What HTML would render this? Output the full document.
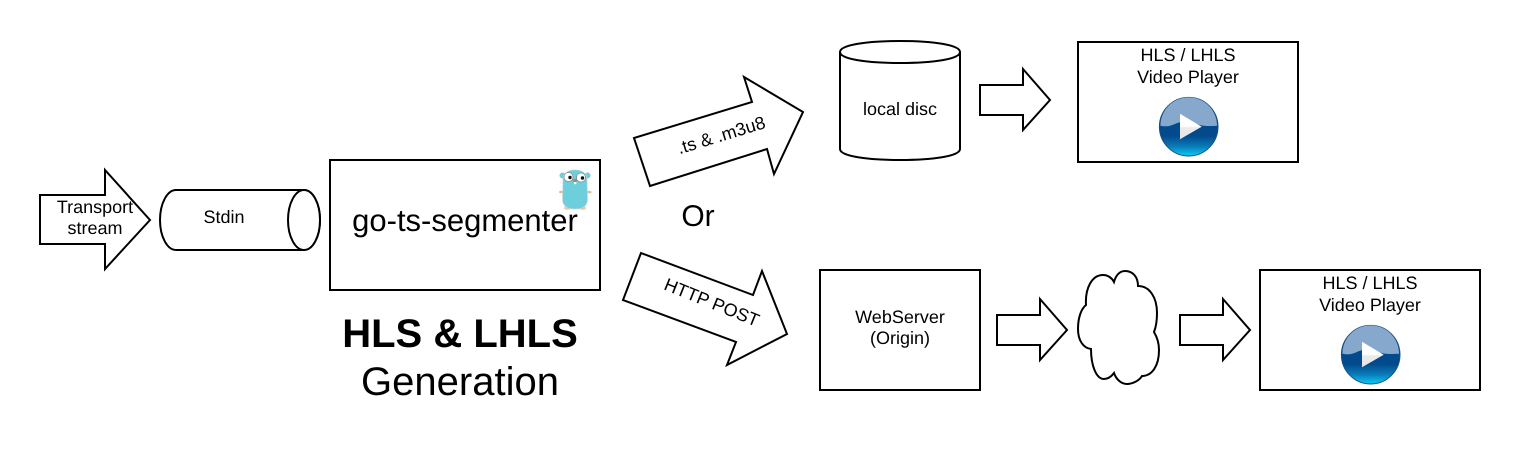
<!DOCTYPE html>
<html><head><meta charset="utf-8"><style>
html,body{margin:0;padding:0;background:#fff}
svg{display:block}
text{font-family:"Liberation Sans",sans-serif;fill:#000;text-anchor:middle;text-rendering:geometricPrecision}
.s{fill:#fff;stroke:#000;stroke-width:2;stroke-linejoin:miter}
</style></head><body>
<svg width="1520" height="457" viewBox="0 0 1520 457" xmlns="http://www.w3.org/2000/svg">
<defs>
<linearGradient id="bl" x1="0" y1="0" x2="0" y2="1">
<stop offset="0" stop-color="#024a8c"/><stop offset=".66" stop-color="#024a8c"/><stop offset=".84" stop-color="#0a7cba"/><stop offset="1" stop-color="#08cdf6"/>
</linearGradient>
<linearGradient id="tri" x1="0" y1="0" x2="0" y2="1">
<stop offset="0" stop-color="#ffffff"/><stop offset=".5" stop-color="#ffffff"/><stop offset=".55" stop-color="#ebebeb"/><stop offset="1" stop-color="#e6e6e6"/>
</linearGradient>
<g id="play">
<circle cx="0" cy="0" r="29.3" fill="url(#bl)" stroke="#1c4f80" stroke-width="1"/>
<path d="M-28.300,-1 A28.300,28.300 0 0 1 28.300,-1 C22,-0.500 17,-0.500 12,-1.500 C6,-3 0,-5 -6,-5 C-12,-4.500 -17,-0.500 -22,-0.500 C-24,-0.500 -26,-0.500 -28.300,-1 Z" fill="#86a8cc"/>
<path d="M-8.700,-13 L13,0 L-8.700,12.500 Z" fill="url(#tri)"/>
</g>
</defs>

<!-- Transport arrow -->
<path class="s" d="M40,195 H105 V170 L150,220 L105,269 V244 H40 Z"/>
<text x="95" y="213" font-size="18">Transport</text>
<text x="95" y="234" font-size="18">stream</text>

<!-- Stdin cylinder -->
<path class="s" d="M176,190 H304 A16,30 0 0 1 304,250 H176 A16,30 0 0 1 176,190 Z"/>
<ellipse class="s" cx="304" cy="220" rx="16" ry="30"/>
<text x="224" y="223" font-size="18">Stdin</text>

<!-- Segmenter box -->
<rect class="s" x="330" y="160" width="270" height="130"/>
<text x="465" y="231" font-size="31">go-ts-segmenter</text>

<!-- Gopher -->
<g>
<ellipse cx="561.500" cy="192" rx="2.500" ry="1.300" fill="#d9bd96"/>
<ellipse cx="589" cy="192" rx="2.500" ry="1.300" fill="#d9bd96"/>
<ellipse cx="567.500" cy="208" rx="3.500" ry="1.800" fill="#e6c9a0"/>
<ellipse cx="582.500" cy="208" rx="3.500" ry="1.800" fill="#e6c9a0"/>
<circle cx="562.500" cy="175.500" r="2.800" fill="#6dcfdc" stroke="#a9bfc2" stroke-width=".5"/>
<circle cx="587.500" cy="175.500" r="2.800" fill="#6dcfdc" stroke="#a9bfc2" stroke-width=".5"/>
<path d="M563,180 C563,173 568,170 575,170 C582,170 587,173 587,180 L587.500,199 C587.500,206 583,209 575,209 C567,209 562.500,206 562.500,199 Z" fill="#6dcfdc" stroke="#c4d4d6" stroke-width=".7"/>
<circle cx="568.500" cy="177" r="4.500" fill="#fff" stroke="#666" stroke-width=".5"/>
<circle cx="581" cy="177.500" r="4.500" fill="#fff" stroke="#666" stroke-width=".5"/>
<circle cx="570" cy="177.500" r="1.700" fill="#111"/>
<circle cx="582.500" cy="178" r="1.700" fill="#111"/>
<ellipse cx="575" cy="180.500" rx="2.500" ry="1.600" fill="#a98b66"/>
<rect x="574" y="182" width="2.400" height="2.200" fill="#f4f4f4"/>
</g>

<!-- Title -->
<text x="460" y="347" font-size="40" font-weight="bold">HLS &amp; LHLS</text>
<text x="460" y="395" font-size="40">Generation</text>

<!-- Upper slanted arrow -->
<path class="s" d="M634,138 L752,102 L744,77 L803,112 L774,174 L767,149 L650,186 Z"/>
<text transform="translate(723,141) rotate(-17)" font-size="18">.ts &amp; .m3u8</text>

<text x="698" y="226" font-size="30">Or</text>

<!-- Lower slanted arrow -->
<path class="s" d="M641,253 L753,295 L762,271 L787,334 L727,365 L736,342 L623,300 Z"/>
<text transform="translate(709.500,308) rotate(22)" font-size="18">HTTP POST</text>

<!-- Local disc -->
<path class="s" d="M840,52 C840,45 866,41 900,41 C934,41 960,45 960,52 V149 C960,156 934,160 900,160 C866,160 840,156 840,149 Z"/>
<path class="s" style="fill:none" d="M840,52 C840,59 866,63 900,63 C934,63 960,59 960,52"/>
<text x="900" y="115" font-size="18">local disc</text>

<!-- arrow to player 1 -->
<path class="s" d="M980,85 H1023 V69 L1050,100 L1023,130 V115 H980 Z"/>

<!-- Player 1 -->
<rect class="s" x="1078" y="42" width="220" height="120"/>
<text x="1188" y="61" font-size="18">HLS / LHLS</text>
<text x="1188" y="83" font-size="18">Video Player</text>
<use href="#play" x="1188.700" y="126.700"/>

<!-- WebServer -->
<rect class="s" x="820" y="270" width="160" height="120"/>
<text x="900" y="323" font-size="18">WebServer</text>
<text x="900" y="344" font-size="18">(Origin)</text>

<path class="s" d="M997,315 H1040 V299 L1067,330 L1040,360 V345 H997 Z"/>

<!-- Cloud -->
<path class="s" d="M1086,305 C1085,288 1092,275 1103,275 C1108,275 1112,278 1114,282 C1116,275 1120,271 1125,271 C1133,271 1138,277 1138,286 C1150,286 1157,298 1157,313 C1157,321 1156,327 1154,332 C1157,337 1159,343 1159,350 C1159,366 1152,376 1142,376 C1139,381 1132,384 1127,384 C1121,384 1116,379 1114,373 C1111,377 1108,379 1104,379 C1096,379 1091,365 1091,349 C1083,348 1078,340 1078,329 C1078,318 1081,309 1086,305 Z"/>

<path class="s" d="M1180,315 H1223 V299 L1250,330 L1223,360 V345 H1180 Z"/>

<!-- Player 2 -->
<rect class="s" x="1260" y="270" width="220" height="120"/>
<text x="1370" y="289" font-size="18">HLS / LHLS</text>
<text x="1370" y="311" font-size="18">Video Player</text>
<use href="#play" x="1370.700" y="354.700"/>
</svg>
</body></html>
